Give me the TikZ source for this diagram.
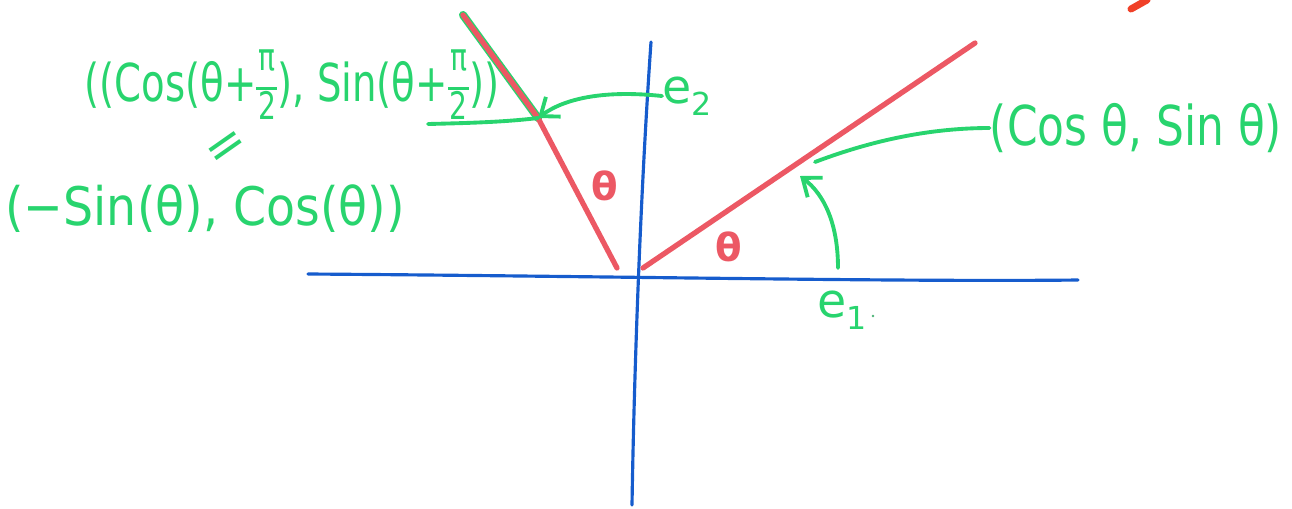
\documentclass[tikz,border=0pt]{standalone}
\usepackage{fontspec}
\setmainfont{DejaVu Sans}
\usetikzlibrary{arrows.meta}
\definecolor{pen}{RGB}{40,212,110}
\definecolor{redpen}{RGB}{236,88,100}
\definecolor{bluepen}{RGB}{22,92,205}
\definecolor{orangepen}{RGB}{240,64,40}
\newcommand{\halfpi}{$\vcenter{\hbox{\fontsize{16}{16}\selectfont\renewcommand{\arraystretch}{0.75}\begin{tabular}{@{}c@{}}π\\[-4pt]\rule{0.75em}{1.2pt}\\[-3pt]2\end{tabular}}}$}
\newcommand{\sub}[1]{\raisebox{-0.45ex}{\fontsize{18}{18}\selectfont #1}}
\tikzset{
  axis/.style={bluepen, line width=1.8pt, line cap=round},
  vec/.style={redpen, line width=3pt, line cap=round},
  greenline/.style={pen, line width=2.2pt, line cap=round},
  greenarrow/.style={greenline, -{Straight Barb[length=9pt,width=14pt,line width=2.2pt]}},
  gtext/.style={pen, inner sep=0pt, font=\fontsize{27}{32}\selectfont},
  rtext/.style={redpen, inner sep=0pt, font=\bfseries\fontsize{22}{26}\selectfont},
}
\begin{document}
\begin{tikzpicture}[x=0.02cm, y=-0.02cm]
\useasboundingbox (0,0) rectangle (1292,508);
% axes
\coordinate (xl) at (308,274);
\coordinate (xr) at (1078,280);
\coordinate (yt) at (651,42);
\coordinate (yb) at (632,505);
\draw[axis] (xl) .. controls (600,276) and (900,282) .. (xr);
\draw[axis] (yt) .. controls (640,200) and (634,380) .. (yb);
% vectors
\coordinate (o1) at (643,268);
\coordinate (v1) at (975,43);
\coordinate (o2) at (617,268);
\coordinate (v2) at (463,15);
\coordinate (p2) at (538,118);
\coordinate (p1) at (800,176);
\coordinate (q1) at (815,162);
\draw[vec] (o1) -- (v1);
\draw[pen, line width=4.6pt, line cap=round] (v2) -- (p2);
\draw[vec] (o2) -- (p2) -- (v2);
% red angle labels
\node[rtext] (th2) at (605,186) {θ};
\node[rtext] (th1) at (729,247) {θ};
% axis labels
\node[gtext, anchor=west] (e2) at (662,96) {e\sub{2}};
\node[gtext] (e1) at (842,310) {e\sub{1}};
\fill[pen!60!gray] (873,316) circle (1.3);
% formulas
\node[gtext, font=\fontsize{22}{28}\selectfont, anchor=base west] (f1) at (84,101) {\scalebox{1}[1.35]{((Cos(θ+\halfpi), Sin(θ+\halfpi))}};
\node[gtext, rotate=35, font=\fontsize{28}{30}\selectfont] (eq) at (228,150) {=};
\node[gtext] (f2) at (205,209) {\scalebox{1}[1.12]{(−Sin(θ), Cos(θ))}};
\node[gtext, font=\fontsize{25}{30}\selectfont] (f3) at (1136,128) {\scalebox{1}[1.25]{(Cos θ, Sin θ)}};
% connectors
\coordinate (u1) at (428,124);
\draw[greenline] (u1) .. controls (470,123) and (505,122) .. (p2);
\draw[greenarrow] (e2.west) .. controls (605,90) and (565,98) .. (p2);
\draw[greenline] (f3.west) .. controls (920,128) and (860,145) .. (q1);
\coordinate (a1) at (838,268);
\draw[greenarrow] (a1) .. controls (838,225) and (825,195) .. (p1);
% stray mark
\coordinate (m1) at (1131,9);
\coordinate (m2) at (1147,0);
\draw[orangepen, line width=4pt, line cap=round] (m1) -- (m2);
\end{tikzpicture}
\end{document}
